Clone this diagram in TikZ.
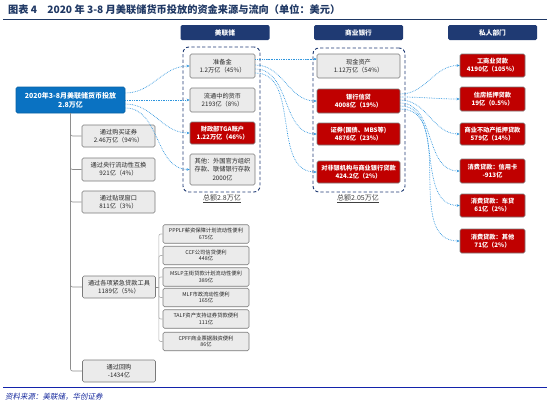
\documentclass[tikz,border=0pt]{standalone}
\usepackage{fontspec}
\setmainfont{Noto Sans CJK SC}
\newfontfamily\footfont[FakeSlant=0.2]{Noto Sans CJK SC}
\usetikzlibrary{arrows.meta}
\definecolor{navy}{HTML}{1F3864}
\definecolor{hdr}{HTML}{1F3A73}
\definecolor{redbox}{HTML}{C00000}
\definecolor{mainblue}{HTML}{0A72C2}
\definecolor{flowblue}{HTML}{2E95DD}
\definecolor{gfill}{HTML}{EBEBEB}
\definecolor{gline}{HTML}{7A7A7A}
\begin{document}
\begin{tikzpicture}[x=1pt,y=-1pt,
  box/.style={rounded corners=1.5pt, line width=0.6pt, align=center, inner sep=0pt},
  gbox/.style={box, draw=gline, fill=gfill, text=black!85, font=\fontsize{6.2}{8.2}\selectfont},
  rbox/.style={box, draw=gline, fill=redbox, text=white, font=\bfseries\fontsize{6.2}{8.2}\selectfont},
  hbox/.style={rounded corners=1.5pt, fill=hdr, text=white, inner sep=0pt, font=\bfseries\fontsize{6.7}{8}\selectfont, minimum width=89pt, minimum height=15pt},
  fcol/.style={minimum width=65pt},
  ccol/.style={minimum width=83pt},
  lbox/.style={gbox, minimum width=73pt, minimum height=22pt},
  sbox/.style={gbox, minimum width=86pt, minimum height=18.5pt, font=\fontsize{5.3}{6.6}\selectfont},
  container/.style={draw=hdr, line width=0.9pt, rounded corners=6pt, dash pattern=on 3.2pt off 2.2pt, inner sep=0pt},
  flow/.style={flowblue, densely dotted, line width=0.7pt, -{Stealth[length=3pt,width=2.6pt]}},
  tree/.style={draw=gline!85, line width=0.6pt, rounded corners=2pt},
  total/.style={text=black!75, font=\fontsize{7}{8}\selectfont}
]
\useasboundingbox (0,0) rectangle (550,407);

% title and rules
\node[anchor=west, text=navy, font=\bfseries\fontsize{10.2}{12}\selectfont, inner sep=0pt] (title) at (8,9.5) {图表 4\quad 2020 年 3-8 月美联储货币投放的资金来源与流向（单位：美元）};
\draw[navy, line width=0.9pt] (3,19.5) -- (547,19.5);
\draw[hdr!60!blue, line width=0.8pt] (3,387) -- (547,387);
\node[anchor=west, text=hdr!70!blue, font=\footfont\fontsize{7.5}{9}\selectfont, inner sep=0pt] (src) at (5,397) {资料来源：美联储，华创证券};

% headers
\node[hbox] (h1) at (225,32.5) {美联储};
\node[hbox] (h2) at (358.5,32.5) {商业银行};
\node[hbox] (h3) at (492.5,32.5) {私人部门};

% containers
\node[container, minimum width=77pt, minimum height=145pt] (c1) at (221.5,119.5) {};
\node[container, minimum width=92pt, minimum height=144pt] (c2) at (359,120) {};
\node[total] (t1) at (222,199) {\underline{总额2.8万亿}};
\node[total] (t2) at (358,199) {\underline{总额2.05万亿}};

% Fed column
\node[gbox, fcol, minimum height=24pt] (fr1) at (222.5,66) {准备金\\1.2万亿（45\%）};
\node[gbox, fcol, minimum height=24pt] (fr2) at (222.5,100) {流通中的货币\\2193亿（8\%）};
\node[rbox, fcol, minimum height=22pt] (fr3) at (222.5,133) {财政部TGA账户\\1.22万亿（46\%）};
\node[gbox, fcol, minimum height=31pt] (fr4) at (222.5,169.5) {其他：外国官方组织\\存款、联储银行存款\\2000亿};

% Commercial banks column
\node[gbox, ccol, minimum height=24pt] (cb1) at (358.5,66) {现金资产\\1.12万亿（54\%）};
\node[rbox, ccol, minimum height=24pt] (cb2) at (358.5,101) {银行信贷\\4008亿（19\%）};
\node[rbox, ccol, minimum height=22pt] (cb3) at (358.5,134) {证券(国债、MBS等)\\4876亿（23\%）};
\node[rbox, ccol, minimum height=22pt] (cb4) at (358.5,172) {对非银机构与商业银行贷款\\424.2亿（2\%）};

% Private sector column
\node[rbox, fcol, minimum height=23pt] (p1) at (492.5,65.5) {工商业贷款\\4190亿（105\%）};
\node[rbox, fcol, minimum height=24pt] (p2) at (492.5,99) {住房抵押贷款\\19亿（0.5\%）};
\node[rbox, fcol, minimum height=22pt] (p3) at (492.5,134) {商业不动产抵押贷款\\579亿（14\%）};
\node[rbox, fcol, minimum height=24pt] (p4) at (492.5,171) {消费贷款：信用卡\\-913亿};
\node[rbox, fcol, minimum height=23pt] (p5) at (492.5,205.5) {消费贷款：车贷\\61亿（2\%）};
\node[rbox, fcol, minimum height=24pt] (p6) at (492.5,241) {消费贷款：其他\\71亿（2\%）};

% main box
\node[box, fill=mainblue, draw=mainblue!85!black, text=white, font=\bfseries\fontsize{7}{9}\selectfont, minimum width=109pt, minimum height=26pt] (main) at (70.5,100) {2020年3-8月美联储货币投放\\2.8万亿};

% left boxes
\node[lbox] (l1) at (118.5,136) {通过购买证券\\2.46万亿（94\%）};
\node[lbox, minimum height=23pt] (l2) at (118.5,169.5) {通过央行流动性互换\\921亿（4\%）};
\node[lbox] (l3) at (118.5,202) {通过贴现窗口\\811亿（3\%）};
\node[lbox] (l4) at (119,287) {通过各项紧急贷款工具\\1189亿（5\%）};
\node[lbox] (l5) at (119,371) {通过回购\\-1434亿};

% emergency tools
\node[sbox] (s1) at (206,234) {PPPLF薪资保障计划流动性便利\\675亿};
\node[sbox] (s2) at (206,255.5) {CCF公司信贷便利\\448亿};
\node[sbox] (s3) at (206,277) {MSLP主街贷款计划流动性便利\\389亿};
\node[sbox] (s4) at (206,297.5) {MLF市政流动性便利\\165亿};
\node[sbox] (s5) at (206,319) {TALF资产支持证券贷款便利\\111亿};
\node[sbox] (s6) at (206,341.5) {CPFF商业票据融资便利\\86亿};

% tree connectors
\foreach \n in {l1,l2,l3,l4,l5}{\draw[tree] (main.south) |- (\n.west);}
\coordinate (bk) at ([xshift=3pt]l4.east);
\draw[tree, rounded corners=0pt] (l4.east) -- (bk);
\foreach \n in {s1,s2,s3,s4,s5,s6}{\draw[tree, draw=gline!60] (bk) |- (\n.west);}

% flows: main -> Fed uses
\draw[flow] ([yshift=7pt]main.east) to[out=0,in=180] (fr1.west);
\draw[flow] (main.east) -- (fr2.west);
\draw[flow] ([yshift=-4pt]main.east) to[out=0,in=180] (fr3.west);
\draw[flow] ([yshift=-8pt]main.east) to[out=0,in=180] (fr4.west);

% flows: reserves -> commercial banks
\draw[flow] ([yshift=7pt]fr1.east) to[out=0,in=180] ([yshift=7pt]cb1.west);
\draw[flow] ([yshift=1pt]fr1.east) to[out=0,in=180] (cb2.west);
\draw[flow] ([yshift=-3pt]fr1.east) to[out=0,in=180] (cb3.west);
\draw[flow] ([yshift=-7pt]fr1.east) to[out=0,in=180] (cb4.west);

% flows: bank credit -> private sector
\draw[flow] ([yshift=7pt]cb2.east) to[out=0,in=180] (p1.west);
\draw[flow] ([yshift=4pt]cb2.east) to[out=0,in=180] (p2.west);
\draw[flow] ([yshift=1pt]cb2.east) to[out=0,in=180] (p3.west);
\draw[flow] ([yshift=-2pt]cb2.east) to[out=0,in=180] (p4.west);
\draw[flow] ([yshift=-5pt]cb2.east) to[out=0,in=180] (p5.west);
\draw[flow] ([yshift=-8pt]cb2.east) to[out=0,in=180] (p6.west);
\end{tikzpicture}
\end{document}
